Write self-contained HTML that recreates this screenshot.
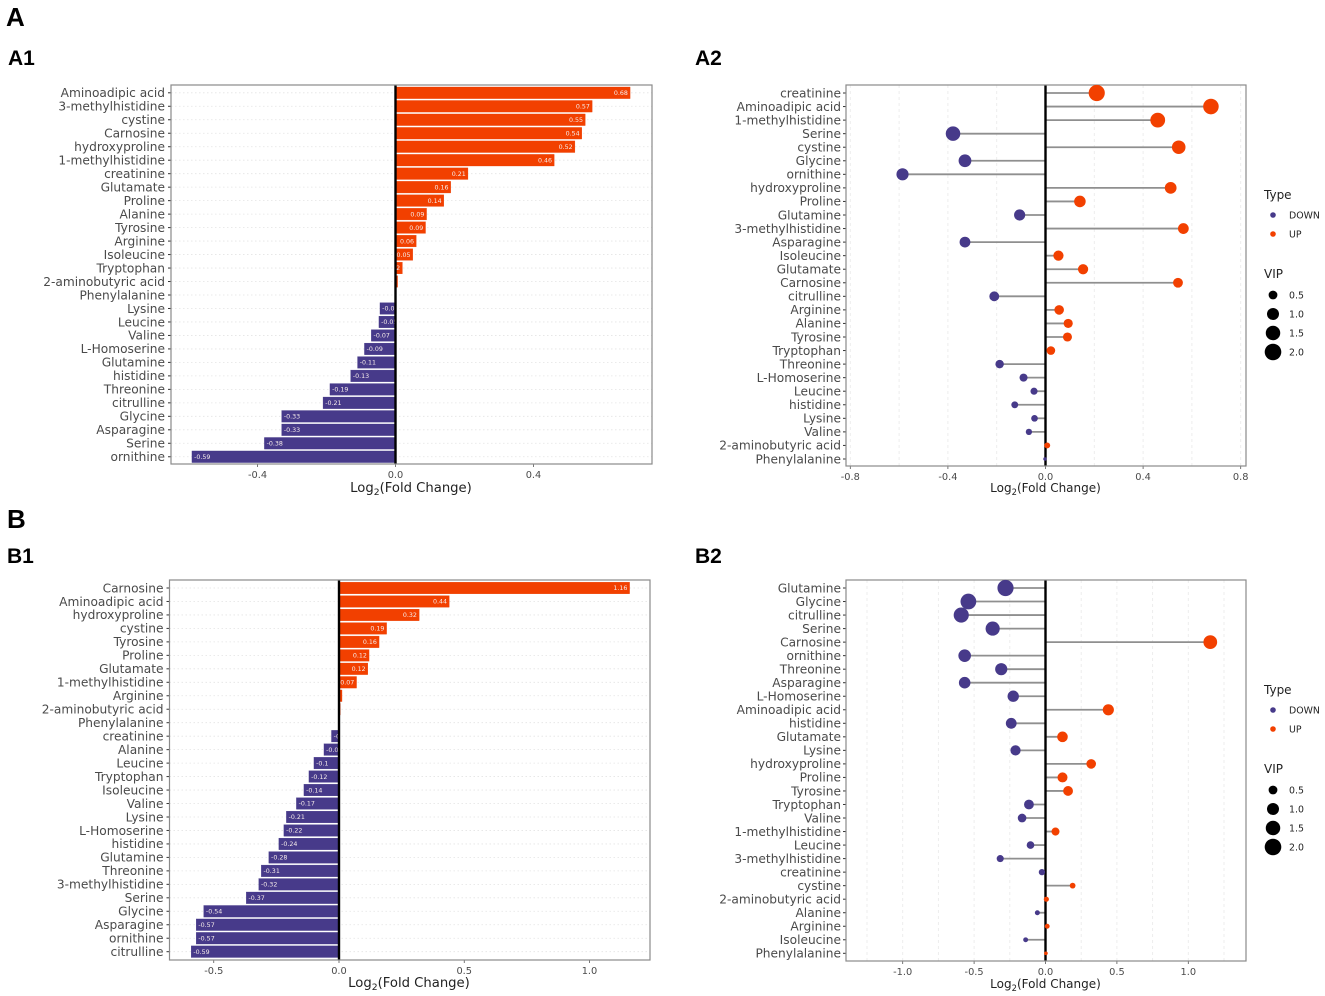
<!DOCTYPE html>
<html lang="en">
<head>
<meta charset="utf-8">
<title>Log2 fold change charts</title>
<style>
html,body{margin:0;padding:0;background:#fff;}
#figure{display:block;width:1325px;height:996px;filter:blur(0.3px);}
text{font-family:"DejaVu Sans","Liberation Sans",sans-serif;}
.panel-tag{font-family:"Liberation Sans",sans-serif;font-weight:700;fill:#000;}
</style>
</head>
<body>
<svg id="figure" xmlns="http://www.w3.org/2000/svg" width="1325" height="996" viewBox="0 0 1325 996">
  <rect x="0" y="0" width="1325" height="996" fill="#fff"/>
  <text class="panel-tag" x="6" y="26" font-size="26">A</text>
  <text class="panel-tag" x="8" y="65" font-size="21">A1</text>
  <text class="panel-tag" x="695" y="65" font-size="21">A2</text>
  <text class="panel-tag" x="7" y="528" font-size="26">B</text>
  <text class="panel-tag" x="7" y="563" font-size="21">B1</text>
  <text class="panel-tag" x="695" y="563" font-size="21">B2</text>
</svg>
<script>
const a1Categories = ["Aminoadipic acid","3-methylhistidine","cystine","Carnosine","hydroxyproline","1-methylhistidine","creatinine","Glutamate","Proline","Alanine","Tyrosine","Arginine","Isoleucine","Tryptophan","2-aminobutyric acid","Phenylalanine","Lysine","Leucine","Valine","L-Homoserine","Glutamine","histidine","Threonine","citrulline","Glycine","Asparagine","Serine","ornithine"];
const a1Values = [0.68,0.57,0.55,0.54,0.52,0.46,0.21,0.16,0.14,0.09,0.087,0.06,0.05,0.02,0.006,-0.001,-0.045,-0.048,-0.07,-0.09,-0.11,-0.13,-0.19,-0.21,-0.33,-0.33,-0.38,-0.59];
const a1Printed = ["0.68","0.57","0.55","0.54","0.52","0.46","0.21","0.16","0.14","0.09","0.09","0.06","0.05","0.02","0.01","0","-0.05","-0.05","-0.07","-0.09","-0.11","-0.13","-0.19","-0.21","-0.33","-0.33","-0.38","-0.59"];
const a1Ticks = [-0.4,0,0.4];
const a1TickLabels = ["-0.4","0.0","0.4"];

const a2Categories = ["creatinine","Aminoadipic acid","1-methylhistidine","Serine","cystine","Glycine","ornithine","hydroxyproline","Proline","Glutamine","3-methylhistidine","Asparagine","Isoleucine","Glutamate","Carnosine","citrulline","Arginine","Alanine","Tyrosine","Tryptophan","Threonine","L-Homoserine","Leucine","histidine","Lysine","Valine","2-aminobutyric acid","Phenylalanine"];
const a2Values = [0.21,0.678,0.46,-0.379,0.546,-0.33,-0.586,0.513,0.141,-0.106,0.565,-0.33,0.053,0.154,0.543,-0.21,0.056,0.093,0.09,0.022,-0.188,-0.09,-0.047,-0.126,-0.045,-0.068,0.007,-0.002];
const a2Vip = [1.88,1.74,1.56,1.51,1.30,1.14,1.03,0.96,0.92,0.85,0.79,0.79,0.70,0.70,0.64,0.64,0.61,0.55,0.53,0.48,0.45,0.40,0.29,0.27,0.25,0.21,0.18,0];
const a2Ticks = [-0.8,-0.4,0,0.4,0.8];
const a2TickLabels = ["-0.8","-0.4","0.0","0.4","0.8"];
const a2GridValues = [-0.8,-0.6,-0.4,-0.2,0.2,0.4,0.6,0.8];

const b1Categories = ["Carnosine","Aminoadipic acid","hydroxyproline","cystine","Tyrosine","Proline","Glutamate","1-methylhistidine","Arginine","2-aminobutyric acid","Phenylalanine","creatinine","Alanine","Leucine","Tryptophan","Isoleucine","Valine","Lysine","L-Homoserine","histidine","Glutamine","Threonine","3-methylhistidine","Serine","Glycine","Asparagine","ornithine","citrulline"];
const b1Values = [1.16,0.44,0.32,0.19,0.16,0.12,0.115,0.07,0.012,0.005,0.001,-0.03,-0.06,-0.1,-0.12,-0.14,-0.17,-0.21,-0.22,-0.24,-0.28,-0.31,-0.32,-0.37,-0.54,-0.57,-0.57,-0.59];
const b1Printed = ["1.16","0.44","0.32","0.19","0.16","0.12","0.12","0.07","0.01","0.01","0","-0.03","-0.06","-0.1","-0.12","-0.14","-0.17","-0.21","-0.22","-0.24","-0.28","-0.31","-0.32","-0.37","-0.54","-0.57","-0.57","-0.59"];
const b1Ticks = [-0.5,0,0.5,1];
const b1TickLabels = ["-0.5","0.0","0.5","1.0"];

const b2Categories = ["Glutamine","Glycine","citrulline","Serine","Carnosine","ornithine","Threonine","Asparagine","L-Homoserine","Aminoadipic acid","histidine","Glutamate","Lysine","hydroxyproline","Proline","Tyrosine","Tryptophan","Valine","1-methylhistidine","Leucine","3-methylhistidine","creatinine","cystine","2-aminobutyric acid","Alanine","Arginine","Isoleucine","Phenylalanine"];
const b2Values = [-0.28,-0.54,-0.59,-0.37,1.154,-0.566,-0.31,-0.566,-0.226,0.44,-0.24,0.119,-0.21,0.32,0.119,0.158,-0.116,-0.164,0.07,-0.105,-0.317,-0.025,0.19,0.006,-0.057,0.012,-0.139,0.003];
const b2Vip = [1.88,1.79,1.65,1.43,1.34,1.11,1.03,0.92,0.89,0.85,0.79,0.76,0.70,0.61,0.67,0.64,0.64,0.48,0.40,0.35,0.29,0.21,0.16,0.11,0.10,0.09,0.09,0.01];
const b2Ticks = [-1,-0.5,0,0.5,1];
const b2TickLabels = ["-1.0","-0.5","0.0","0.5","1.0"];
const b2GridValues = [-1.25,-1,-0.75,-0.5,-0.25,0.25,0.5,0.75,1,1.25];

const legendTypes = ["DOWN","UP"];
const legendVipValues = [0.5,1,1.5,2];
const legendVipLabels = ["0.5","1.0","1.5","2.0"];

const SVG_NS = "http://www.w3.org/2000/svg";
const root = document.getElementById("figure");
const COLOR_UP = "#f24000";
const COLOR_DOWN = "#473a8a";
const STROKE_UP = "#e83c00";
const STROKE_DOWN = "#3a2e80";
const INK = "#4a4a4a";
let clipCounter = 0;

function shape(parent, tag, attrs, name) {
  const el = document.createElementNS(SVG_NS, tag);
  for (const key in attrs) el.setAttribute(key, attrs[key]);
  
  
  parent.appendChild(el);
  return el;
}
function slug(s) {
  return String(s).toLowerCase().replace(/[^a-z0-9]+/g, '-');
}
function makeXScale(box) {
  return function (v) { return box.zero + v * box.perUnit; };
}
function makeYScale(box) {
  return function (i) { return box.firstRow + i * box.rowStep; };
}
function sizeScale(vip) {
  return Math.sqrt(3 + 33 * Math.max(vip, 0));
}
function drawFrameBack(g, box) {
  shape(g, 'rect', {x: box.left, y: box.top, width: box.right - box.left, height: box.bottom - box.top, fill: '#fff'}, 'plot-background');
}
function drawAxes(g, box, x, y, categories, ticks, tickLabels) {
  categories.forEach(function (c, i) {
    shape(g, 'line', {x1: box.left - 3, x2: box.left, y1: y(i), y2: y(i), stroke: '#333', 'stroke-width': 1}, 'y-tick-' + slug(c));
    const label = shape(g, 'text', {x: box.left - box.catGap, y: y(i) + 4.3, 'text-anchor': 'end', 'font-size': box.catFont, fill: INK}, 'y-label-' + slug(c));
    label.textContent = c;
  });
  ticks.forEach(function (t, i) {
    shape(g, 'line', {x1: x(t), x2: x(t), y1: box.bottom, y2: box.bottom + 3, stroke: '#555', 'stroke-width': 0.8}, 'x-tick-' + tickLabels[i]);
    const label = shape(g, 'text', {x: x(t), y: box.bottom + 14, 'text-anchor': 'middle', 'font-size': 9.8, fill: INK}, 'x-label-' + tickLabels[i]);
    label.textContent = tickLabels[i];
  });
  const title = shape(g, 'text', {x: box.titleX, y: box.bottom + box.titleDy, 'text-anchor': 'middle', 'font-size': box.titleFont, fill: '#222'}, 'x-axis-title');
  const a = document.createElementNS(SVG_NS, 'tspan');
  a.textContent = 'Log';
  const b = document.createElementNS(SVG_NS, 'tspan');
  b.setAttribute('dy', '3');
  b.setAttribute('font-size', box.titleFont * 0.7);
  b.textContent = '2';
  const c = document.createElementNS(SVG_NS, 'tspan');
  c.setAttribute('dy', '-3');
  c.textContent = '(Fold Change)';
  title.appendChild(a);
  title.appendChild(b);
  title.appendChild(c);
}
function drawFrameFront(g, box, x) {
  shape(g, 'line', {x1: x(0), x2: x(0), y1: box.top, y2: box.bottom, stroke: '#000', 'stroke-width': 2.4}, 'zero-line');
  shape(g, 'rect', {x: box.left, y: box.top, width: box.right - box.left, height: box.bottom - box.top, fill: 'none', stroke: '#8a8a8a', 'stroke-width': 1.2}, 'plot-border');
}
function drawBarChart(name, box, categories, values, printed, ticks, tickLabels) {
  const g = shape(root, 'g', {}, name);
  const x = makeXScale(box);
  const y = makeYScale(box);
  const h = box.rowStep * 0.86;
  drawFrameBack(g, box);
  categories.forEach(function (c, i) {
    shape(g, 'line', {x1: box.left, x2: box.right, y1: y(i), y2: y(i), stroke: '#e4e4e4', 'stroke-width': 0.8, 'stroke-dasharray': '1.5 2.5'}, 'grid-line-' + slug(c));
  });
  categories.forEach(function (c, i) {
    const v = values[i];
    const x0 = Math.min(x(0), x(v));
    const w = Math.abs(x(v) - x(0));
    const up = v >= 0;
    shape(g, 'rect', {x: x0, y: y(i) - h / 2, width: w, height: h, fill: up ? COLOR_UP : COLOR_DOWN, stroke: up ? STROKE_UP : STROKE_DOWN, 'stroke-width': 0.3}, 'bar-' + slug(c));
    const clipId = 'clip-' + (clipCounter++);
    const cp = shape(g, 'clipPath', {id: clipId}, 'bar-label-clip-' + slug(c));
    const cr = document.createElementNS(SVG_NS, 'rect');
    cr.setAttribute('x', x0);
    cr.setAttribute('y', y(i) - h / 2);
    cr.setAttribute('width', w);
    cr.setAttribute('height', h);
    cp.appendChild(cr);
    const label = shape(g, 'text', {x: up ? x(v) - 2.2 : x(v) + 2.2, y: y(i) + 2.2, 'text-anchor': up ? 'end' : 'start', 'font-size': 6.3, fill: '#f6ecea', 'clip-path': 'url(#' + clipId + ')'}, 'bar-value-' + slug(c));
    label.textContent = printed[i];
  });
  drawAxes(g, box, x, y, categories, ticks, tickLabels);
  drawFrameFront(g, box, x);
}
function drawLollipopChart(name, box, categories, values, vip, ticks, tickLabels, gridValues) {
  const g = shape(root, 'g', {}, name);
  const x = makeXScale(box);
  const y = makeYScale(box);
  drawFrameBack(g, box);
  gridValues.forEach(function (t) {
    shape(g, 'line', {x1: x(t), x2: x(t), y1: box.top, y2: box.bottom, stroke: '#ececec', 'stroke-width': 0.9, 'stroke-dasharray': '3 3'}, 'grid-line-' + t);
  });
  categories.forEach(function (c, i) {
    shape(g, 'line', {x1: x(0), x2: x(values[i]), y1: y(i), y2: y(i), stroke: '#8f8f8f', 'stroke-width': 1.8}, 'stem-' + slug(c));
  });
  drawAxes(g, box, x, y, categories, ticks, tickLabels);
  drawFrameFront(g, box, x);
  categories.forEach(function (c, i) {
    const up = values[i] >= 0;
    shape(g, 'circle', {cx: x(values[i]), cy: y(i), r: sizeScale(vip[i]), fill: up ? COLOR_UP : COLOR_DOWN}, 'point-' + slug(c));
  });
}
function drawLegend(name, left, topY) {
  const g = shape(root, 'g', {}, name);
  const typeTitle = shape(g, 'text', {x: left, y: topY, 'font-size': 12, fill: '#222'}, 'legend-title-type');
  typeTitle.textContent = 'Type';
  legendTypes.forEach(function (t, i) {
    const cy = topY + 16 + i * 19;
    shape(g, 'circle', {cx: left + 9, cy: cy, r: 2.8, fill: t === 'UP' ? COLOR_UP : COLOR_DOWN}, 'legend-marker-' + slug(t));
    const label = shape(g, 'text', {x: left + 25, y: cy + 3.4, 'font-size': 9.4, fill: '#222'}, 'legend-entry-' + slug(t));
    label.textContent = t;
  });
  const vipTitle = shape(g, 'text', {x: left, y: topY + 79, 'font-size': 12, fill: '#222'}, 'legend-title-vip');
  vipTitle.textContent = 'VIP';
  legendVipValues.forEach(function (v, i) {
    const cy = topY + 96 + i * 19;
    shape(g, 'circle', {cx: left + 9, cy: cy, r: sizeScale(v), fill: '#000'}, 'legend-size-marker-' + legendVipLabels[i]);
    const label = shape(g, 'text', {x: left + 25, y: cy + 3.4, 'font-size': 9.4, fill: '#222'}, 'legend-size-entry-' + legendVipLabels[i]);
    label.textContent = legendVipLabels[i];
  });
}

drawBarChart('chart-a1', {left: 171, right: 652, top: 85, bottom: 464, zero: 395.5, perUnit: 345, firstRow: 92.8, rowStep: 13.48, catFont: 12.2, catGap: 6, titleX: 411, titleDy: 28, titleFont: 13.2}, a1Categories, a1Values, a1Printed, a1Ticks, a1TickLabels);
drawLollipopChart('chart-a2', {left: 846, right: 1246, top: 85, bottom: 466, zero: 1045.5, perUnit: 244, firstRow: 93, rowStep: 13.555, catFont: 12.2, catGap: 5, titleX: 1045.5, titleDy: 26, titleFont: 12}, a2Categories, a2Values, a2Vip, a2Ticks, a2TickLabels, a2GridValues);
drawLegend('legend-a2', 1264, 199);
drawBarChart('chart-b1', {left: 169.5, right: 650, top: 580, bottom: 960, zero: 339, perUnit: 250.5, firstRow: 588, rowStep: 13.47, catFont: 12.2, catGap: 6, titleX: 409, titleDy: 27, titleFont: 13.2}, b1Categories, b1Values, b1Printed, b1Ticks, b1TickLabels);
drawLollipopChart('chart-b2', {left: 846, right: 1246, top: 580, bottom: 961, zero: 1045.5, perUnit: 142.8, firstRow: 588, rowStep: 13.53, catFont: 12.2, catGap: 5, titleX: 1045.5, titleDy: 27, titleFont: 12}, b2Categories, b2Values, b2Vip, b2Ticks, b2TickLabels, b2GridValues);
drawLegend('legend-b2', 1264, 694);
</script>
</body>
</html>
